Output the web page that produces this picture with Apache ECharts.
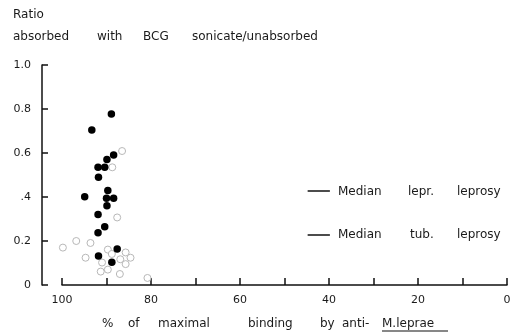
<!DOCTYPE html>
<html><head><meta charset="utf-8">
<script src="https://cdn.jsdelivr.net/npm/echarts@6/dist/echarts.min.js"></script>
<style>html,body{margin:0;padding:0;background:#fff}#c{width:514px;height:333px}</style>
</head><body><div id="c"></div>
<script>
// Filled dots: [% maximal binding, ratio]
const filledPoints = [
  [88.9,0.777],[93.3,0.705],[88.4,0.591],[89.9,0.571],[91.9,0.535],[90.4,0.535],
  [91.8,0.490],[89.7,0.429],[94.9,0.401],[90.0,0.394],[88.4,0.394],[89.9,0.360],
  [91.9,0.321],[90.4,0.265],[91.9,0.238],[87.6,0.164],[91.8,0.132],[88.8,0.103]
];
// Open circles
const openPoints = [
  [86.5,0.609],[88.7,0.535],[87.6,0.307],[99.8,0.170],[96.8,0.200],[93.6,0.191],
  [89.7,0.161],[88.8,0.141],[85.7,0.148],[94.7,0.124],[91.0,0.102],[86.9,0.117],
  [84.6,0.124],[85.7,0.095],[91.3,0.061],[89.7,0.070],[87.0,0.050],[80.8,0.032]
];
// Median marker segments (drawn in data space)
const medianLepr = [[44.8,0.427],[39.8,0.427]];
const medianTub = [[44.8,0.227],[39.8,0.227]];
const xTicks = [100,80,60,40,20,0];
const yTickLabels = {"0":"0","0.2":"0.2","0.4":".4","0.6":"0.6","0.8":"0.8","1":"1.0"};

const FONT = 'DejaVu Sans, sans-serif';
const TXT = '#1a1a1a';
function word(t, x, y, size){
  return {type:'text', x:x, y:y, style:{text:t, font:(size||12)+'px '+FONT, fill:TXT, textVerticalAlign:'middle'}};
}
const chart = echarts.init(document.getElementById('c'), null, {renderer:'canvas'});
chart.setOption({
  animation:false,
  backgroundColor:'#fff',
  grid:{left:62, right:7, top:65, bottom:48},
  xAxis:{
    type:'value', inverse:true, min:0, max:100, interval:10,
    axisLine:{show:true, onZero:false, lineStyle:{color:'#111', width:1.5}},
    axisTick:{show:true, inside:true, length:7, lineStyle:{color:'#111', width:1.5}},
    splitLine:{show:false},
    axisLabel:{margin:10, color:TXT, fontFamily:FONT, fontSize:11,
      formatter:v=> xTicks.indexOf(v)>=0 ? String(v) : ''}
  },
  yAxis:{
    type:'value', position:'left', min:0, max:1, interval:0.2, offset:20,
    axisLine:{show:true, onZero:false, lineStyle:{color:'#111', width:1.5}},
    axisTick:{show:true, inside:true, length:6, lineStyle:{color:'#111', width:1.5}},
    splitLine:{show:false},
    axisLabel:{margin:11, color:TXT, fontFamily:FONT, fontSize:11,
      formatter:v=> yTickLabels[String(Math.round(v*10)/10)] || ''}
  },
  series:[
    {type:'scatter', data:openPoints, symbol:'circle', symbolSize:7,
     itemStyle:{color:'#fff', borderColor:'#b8b8b8', borderWidth:1, opacity:1}, z:2},
    {type:'scatter', data:filledPoints, symbol:'circle', symbolSize:7.5,
     itemStyle:{color:'#000', opacity:1}, z:3},
    {type:'line', data:medianLepr, symbol:'none', lineStyle:{color:'#111', width:1.5}},
    {type:'line', data:medianTub, symbol:'none', lineStyle:{color:'#111', width:1.5}}
  ],
  graphic:[
    word('Ratio',13,15),
    word('absorbed',13,37), word('with',97,37), word('BCG',143,37), word('sonicate/unabsorbed',192,37),
    word('Median',338,192), word('lepr.',408,192), word('leprosy',457,192),
    word('Median',338,235), word('tub.',410,235), word('leprosy',457,235),
    word('%',102,324), word('of',128,324), word('maximal',158,324), word('binding',248,324),
    word('by',320,324), word('anti-',342,324), word('M.leprae',382,324),
    {type:'line', shape:{x1:382,y1:331,x2:448,y2:331}, style:{stroke:'#111', lineWidth:1.2}}
  ]
});
</script></body></html>
